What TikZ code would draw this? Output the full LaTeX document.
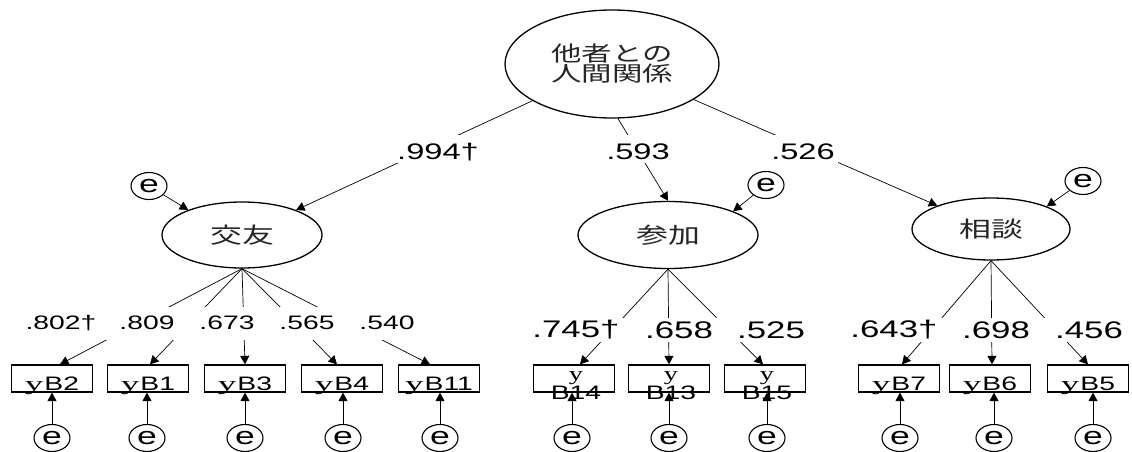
\documentclass[tikz,border=0pt]{standalone}
\usepackage{graphicx}
\usepackage{fontspec}
\setmainfont{Liberation Sans}
\newfontfamily\labf[FakeStretch=1.45]{Liberation Sans}
\newfontfamily\serf[FakeStretch=1.45]{Liberation Serif}
\newfontfamily\serfw[FakeStretch=1.9]{Liberation Serif}
\newfontfamily\jpf[FakeStretch=1.45]{Noto Sans CJK JP}
\usetikzlibrary{arrows.meta,shapes.geometric}
\begin{document}
\begin{tikzpicture}[x=1pt,y=-1pt,
  lat/.style={ellipse, draw, line width=1.3pt, inner sep=0pt, text=black!85},
  obs/.style={rectangle, draw, line width=1.3pt, minimum width=81pt, inner sep=0pt,
              text height=25pt, text depth=2pt, font=\fontsize{19.5}{19}\labf},
  err/.style={ellipse, draw, line width=1.1pt, minimum width=36pt, minimum height=27pt,
              inner sep=0pt, font=\fontsize{24.5}{24}\labf},
  conn/.style={line width=0.7pt, -{Triangle[length=8.5pt,width=9pt]}},
  band/.style={fill=white, draw=none, inner sep=0pt},
  coefs/.style={inner sep=0pt, font=\fontsize{19.5}{19}\labf},
  coefm/.style={inner sep=0pt, font=\fontsize{24}{24}\labf},
  coeft/.style={inner sep=0pt, font=\fontsize{22.5}{22}\labf},
  btxt/.style={inner sep=0pt, anchor=base, font=\fontsize{19.5}{19}\labf}
]
\useasboundingbox (0,0) rectangle (1132,452);

% latent variables
\node[lat, minimum width=214pt, minimum height=108pt, align=center,
      font=\fontsize{21}{20}\jpf] (top) at (612,64) {他者との\\人間関係};
\node[lat, minimum width=160pt, minimum height=66pt, font=\fontsize{22}{22}\jpf] (kou) at (242,235) {交友};
\node[lat, minimum width=180pt, minimum height=67pt, font=\fontsize{22}{22}\jpf] (san) at (668,235) {参加};
\node[lat, minimum width=158pt, minimum height=62pt, font=\fontsize{22}{22}\jpf] (sou) at (991,229) {相談};

% disturbances
\node[err] (ek) at (149,186) {e};
\node[err] (es) at (766,185) {e};
\node[err] (ed) at (1083,181) {e};

% observed variables
\node[obs] (b2)  at (52,378.5)  {{\serfw y}\hspace{1pt}B2};
\node[obs] (b1)  at (148,378.5) {{\serfw y}\hspace{1pt}B1};
\node[obs] (b3)  at (245,378.5) {{\serfw y}\hspace{1pt}B3};
\node[obs] (b4)  at (342,378.5) {{\serfw y}\hspace{1pt}B4};
\node[obs] (b11) at (439,378.5) {{\serfw y}\hspace{1pt}B11};
\node[obs] (b14) at (574,378.5) {};
\node[obs] (b13) at (669,378.5) {};
\node[obs] (b15) at (765,378.5) {};
\node[obs] (b7)  at (899,378.5) {{\serfw y}\hspace{1pt}B7};
\node[obs] (b6)  at (990,378.5) {{\serfw y}\hspace{1pt}B6};
\node[obs] (b5)  at (1088,378.5) {{\serfw y}\hspace{1pt}B5};
\node[btxt] (t14y) at (576,380) {\serf y};
\node[btxt] (t14b) at (576,399) {B14};
\node[btxt] (t13y) at (671,380) {\serf y};
\node[btxt] (t13b) at (671,399) {B13};
\node[btxt] (t15y) at (767,380) {\serf y};
\node[btxt] (t15b) at (767,399) {B15};

% measurement errors
\foreach \n/\x/\b in {e2/52/b2, e1/147/b1, e3/245/b3, e4/343/b4, e11/440/b11,
                      e14/572/b14, e13/669/b13, e15/767/b15,
                      e7/900/b7, e6/994/b6, e5/1093/b5}{
  \node[err] (\n) at (\x,438) {e};
  \draw[conn] (\n.north) -- (\n.north |- \b.south);
}

% structural paths
\draw[conn] (top) -- (kou);
\draw[conn] ([xshift=6pt]top.south) -- (san.north);
\draw[conn] (top) -- (sou);
\draw[conn] (ek) -- (kou.155);
\draw[conn] (es) -- (san.20);
\draw[conn] (ed) -- (sou.22);

% loadings
\draw[conn] (kou.south) -- ([xshift=8pt]b2.north);
\draw[conn] (kou.south) -- ([xshift=2pt]b1.north);
\draw[conn] (kou.south) -- (b3.north);
\draw[conn] (kou.south) -- ([xshift=-5pt]b4.north);
\draw[conn] (kou.south) -- ([xshift=-9pt]b11.north);
\draw[conn] (san.south) -- ([xshift=6pt]b14.north);
\draw[conn] (san.south) -- (b13.north);
\draw[conn] (san.south) -- ([xshift=-2pt]b15.north);
\draw[conn] (sou.south) -- ([xshift=3pt]b7.north);
\draw[conn] (sou.south) -- ([xshift=2pt]b6.north);
\draw[conn] (sou.south) -- (b5.north);

% white bands behind the coefficient rows
\node[band, minimum width=445pt, minimum height=28pt] (bandT) at (615,149) {};
\node[band, minimum width=478pt, minimum height=33pt] (bandL) at (254,323.5) {};
\node[band, minimum width=285pt, minimum height=24pt] (bandM) at (672,330) {};
\node[band, minimum width=280pt, minimum height=24pt] (bandR) at (988,330) {};

% coefficients
\node[coeft] (c1) at (438,152) {.994†};
\node[coeft] (c2) at (638,152) {.593};
\node[coeft] (c3) at (803,152) {.526};
\node[coefs] (l1) at (61,323) {.802†};
\node[coefs] (l2) at (147,323) {.809};
\node[coefs] (l3) at (227,323) {.673};
\node[coefs] (l4) at (307,323) {.565};
\node[coefs] (l5) at (387,323) {.540};
\node[coefm] (m1) at (576,330) {.745†};
\node[coefm] (m2) at (679,330) {.658};
\node[coefm] (m3) at (771,330) {.525};
\node[coefm] (r1) at (894,330) {.643†};
\node[coefm] (r2) at (996,330) {.698};
\node[coefm] (r3) at (1089,330) {.456};
\end{tikzpicture}
\end{document}
